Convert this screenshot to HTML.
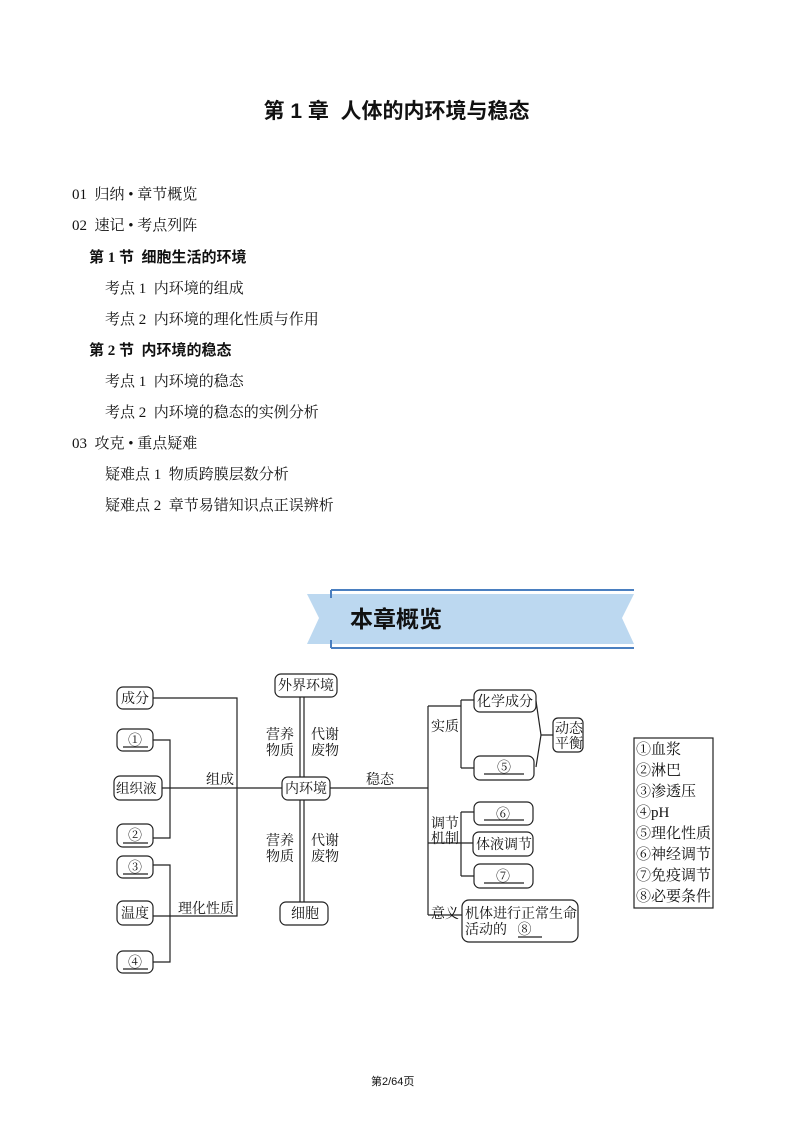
<!DOCTYPE html>
<html><head><meta charset="utf-8"><style>
body{margin:0;background:#fff;}
.pg{position:relative;width:793px;height:1122px;overflow:hidden;font-family:"Liberation Serif","Noto Serif CJK SC",serif;color:#111;}
.t{position:absolute;white-space:nowrap;font-size:15px;line-height:18px;}
.title{position:absolute;left:0;width:793px;top:95px;text-align:center;font-family:"Liberation Sans","Noto Sans CJK SC",sans-serif;font-size:21px;font-weight:bold;}
.b{font-weight:bold;font-family:"Liberation Serif","Noto Sans CJK SC",serif;}
svg{position:absolute;left:0;top:0;}
</style></head><body><div class="pg">
<div class="title">第 1 章&nbsp; 人体的内环境与稳态</div>
<div class="t" style="left:72px;top:186px">01&nbsp; 归纳 • 章节概览</div>
<div class="t" style="left:72px;top:217px">02&nbsp; 速记 • 考点列阵</div>
<div class="t b" style="left:89px;top:249px">第 1 节&nbsp; 细胞生活的环境</div>
<div class="t" style="left:105px;top:280px">考点 1&nbsp; 内环境的组成</div>
<div class="t" style="left:105px;top:311px">考点 2&nbsp; 内环境的理化性质与作用</div>
<div class="t b" style="left:89px;top:342px">第 2 节&nbsp; 内环境的稳态</div>
<div class="t" style="left:105px;top:373px">考点 1&nbsp; 内环境的稳态</div>
<div class="t" style="left:105px;top:404px">考点 2&nbsp; 内环境的稳态的实例分析</div>
<div class="t" style="left:72px;top:435px">03&nbsp; 攻克 • 重点疑难</div>
<div class="t" style="left:105px;top:466px">疑难点 1&nbsp; 物质跨膜层数分析</div>
<div class="t" style="left:105px;top:497px">疑难点 2&nbsp; 章节易错知识点正误辨析</div>
<div class="t" style="left:371px;top:1073px;font-size:11px;font-family:'Liberation Sans','Noto Sans CJK SC',sans-serif">第2/64页</div>

<svg width="793" height="1122" font-family="Liberation Serif, Noto Serif CJK SC, serif" font-size="14" fill="none" stroke="#222" stroke-width="1.2">
<polygon points="307,594 634,594 622,618 634,644 307,644 319,618" fill="#bcd8f0" stroke="none"/>
<path d="M331,590 H634 M331,648 H634" stroke="#4a7fc0" stroke-width="2"/>
<path d="M331,590 V598 M331,648 V640" stroke="#4a7fc0" stroke-width="2"/>
<text x="396" y="627" fill="#111" stroke="none" font-family="Liberation Sans, Noto Sans CJK SC, sans-serif" font-size="23" font-weight="bold" text-anchor="middle">本章概览</text>
<g>
<rect x="117" y="687" width="36" height="22" rx="6"/>
<rect x="117" y="729" width="36" height="22" rx="6"/>
<rect x="114" y="776" width="48" height="24" rx="6"/>
<rect x="117" y="824" width="36" height="23" rx="6"/>
<rect x="117" y="856" width="36" height="22" rx="6"/>
<rect x="117" y="901" width="36" height="24" rx="6"/>
<rect x="117" y="951" width="36" height="22" rx="6"/>
<path d="M123,747H148 M123,843H148 M123,874H148 M123,969H148"/>
</g>
<path d="M153,698H237V916H153 M153,740H170V838H153 M162,788H282 M153,865H170V962H153 M330,788H428 M428,706V915 M428,706H461 M461,700V768 M461,700H474 M461,768H474 M536,701L541,735L536,767 M541,735H553 M428,843H473 M461,812V876 M461,812H474 M461,876H474 M428,915H462"/>
<rect x="275" y="674" width="62" height="23" rx="6"/>
<rect x="282" y="777" width="48" height="23" rx="6"/>
<rect x="280" y="902" width="48" height="23" rx="6"/>
<path d="M300,697V777 M304,697V777 M300,800V902 M304,800V902"/>
<rect x="474" y="690" width="62" height="22" rx="6"/>
<rect x="474" y="756" width="60" height="24" rx="6"/>
<rect x="553" y="718" width="30" height="34" rx="5"/>
<rect x="474" y="802" width="59" height="23" rx="6"/>
<rect x="473" y="832" width="60" height="24" rx="6"/>
<rect x="474" y="864" width="59" height="24" rx="6"/>
<rect x="462" y="900" width="116" height="42" rx="7"/>
<path d="M484,774H524 M484,820H524 M484,883H524 M518,937H542"/>
<rect x="634" y="738" width="79" height="170"/>
<g fill="#111" stroke="none">
<text x="121" y="703">成分</text>
<text x="135" y="745" text-anchor="middle">①</text>
<text x="116" y="793" font-size="13.5">组织液</text>
<text x="135" y="840" text-anchor="middle">②</text>
<text x="135" y="872" text-anchor="middle">③</text>
<text x="121" y="918">温度</text>
<text x="135" y="967" text-anchor="middle">④</text>
<text x="206" y="784">组成</text>
<text x="178" y="913">理化性质</text>
<text x="278" y="690">外界环境</text>
<text x="285" y="793">内环境</text>
<text x="291" y="918">细胞</text>
<text x="266" y="739">营养</text><text x="266" y="755">物质</text>
<text x="311" y="739">代谢</text><text x="311" y="755">废物</text>
<text x="266" y="845">营养</text><text x="266" y="861">物质</text>
<text x="311" y="845">代谢</text><text x="311" y="861">废物</text>
<text x="366" y="784">稳态</text>
<text x="431" y="731">实质</text>
<text x="431" y="828">调节</text><text x="431" y="843">机制</text>
<text x="431" y="918">意义</text>
<text x="477" y="706">化学成分</text>
<text x="504" y="772" text-anchor="middle">⑤</text>
<text x="555" y="733">动态</text><text x="555" y="748">平衡</text>
<text x="503" y="819" text-anchor="middle">⑥</text>
<text x="476" y="849">体液调节</text>
<text x="503" y="881" text-anchor="middle">⑦</text>
<text x="465" y="918">机体进行正常生命</text>
<text x="465" y="934">活动的&#160; &#160;⑧</text>
<g font-size="15"><text x="636" y="754">①血浆</text><text x="636" y="775">②淋巴</text><text x="636" y="796">③渗透压</text><text x="636" y="817">④pH</text><text x="636" y="838">⑤理化性质</text><text x="636" y="859">⑥神经调节</text><text x="636" y="880">⑦免疫调节</text><text x="636" y="901">⑧必要条件</text></g>
</g>
</svg>
</div></body></html>
